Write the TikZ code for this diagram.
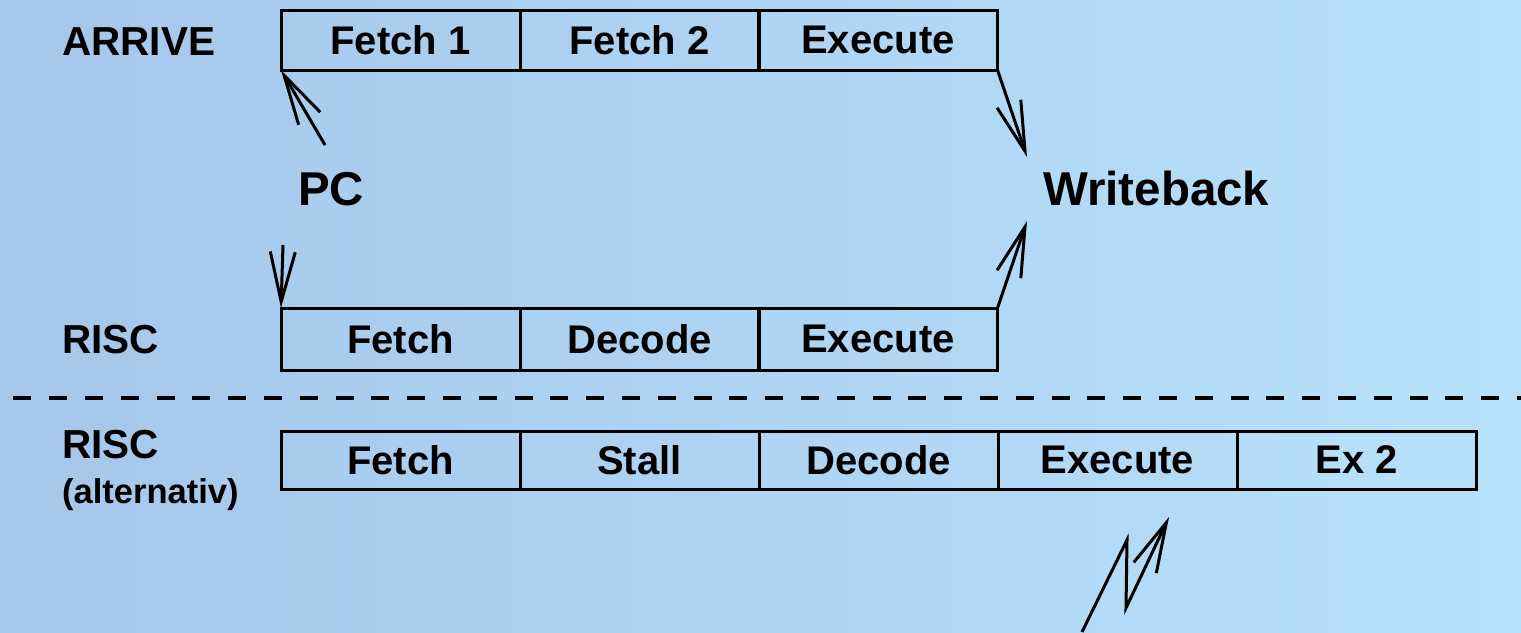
\documentclass[tikz,border=0pt]{standalone}
\usepackage{fontspec}
\setmainfont{Liberation Sans}
\usetikzlibrary{arrows.meta}
\begin{document}
\begin{tikzpicture}[x=1pt,y=-1pt,
  stage/.style={draw,line width=3pt,minimum width=239pt,inner sep=0pt,outer sep=0pt,
    font=\bfseries\fontsize{40}{42}\selectfont},
  rowlabel/.style={anchor=base west,inner sep=0pt,font=\bfseries\fontsize{40.5}{42}\selectfont},
  biglabel/.style={anchor=base west,inner sep=0pt,font=\bfseries\fontsize{47.5}{50}\selectfont},
  arr/.style={line width=3pt,-{Straight Barb[length=50pt,width=25pt,line width=3pt]}}]
\definecolor{bgleft}{RGB}{166,198,234}
\definecolor{bgright}{RGB}{184,226,250}
\shade[left color=bgleft,right color=bgright] (0,0) rectangle (1521,632);
\useasboundingbox (0,0) rectangle (1521,632);

% top row
\node[stage,minimum height=60pt] (a1) at (400.5,40) {Fetch 1};
\node[stage,minimum height=60pt] (a2) at (639.5,40) {Fetch 2};
\node[stage,minimum height=60pt] (a3) at (878,40) {Execute};
% middle row
\node[stage,minimum height=62pt] (r1) at (400.5,339) {Fetch};
\node[stage,minimum height=62pt] (r2) at (639.5,339) {Decode};
\node[stage,minimum height=62pt] (r3) at (878,339) {Execute};
% bottom row
\node[stage,minimum height=58pt] (b1) at (400.5,460) {Fetch};
\node[stage,minimum height=58pt] (b2) at (639.5,460) {Stall};
\node[stage,minimum height=58pt] (b3) at (878.5,460) {Decode};
\node[stage,minimum height=58pt] (b4) at (1117.5,460) {Execute};
\node[stage,minimum height=58pt] (b5) at (1356.5,460) {Ex 2};

% labels
\node[rowlabel] (lar) at (62,55) {ARRIVE};
\node[rowlabel] (lr1) at (62,353) {RISC};
\node[rowlabel] (lr2) at (62,458) {RISC};
\node[anchor=base west,inner sep=0pt,font=\bfseries\fontsize{34.5}{36}\selectfont] (lalt) at (62,503) {(alternativ)};
\node[biglabel] (pc) at (298,205) {PC};
\node[biglabel] (wb) at (1043,205) {Writeback};

% separator
\coordinate (sl) at (0,398);
\coordinate (sr) at (1521,398);
\draw[line width=3.2pt,dash pattern=on 18pt off 17.8pt,dash phase=22.4pt] (sl) -- (sr);

% arrows
\coordinate (p1) at (325,145);
\coordinate (p2) at (1027,157);
\coordinate (p3) at (283,245);
\coordinate (p4) at (1027,221);
\draw[arr] (p1) -- (a1.south west);
\draw[arr] (a3.south east) -- (p2);
\draw[arr] (p3) -- (r1.north west);
\draw[arr] (r3.north east) -- (p4);

% zigzag
\coordinate (z0) at (1082,632);
\coordinate (z1) at (1127,540);
\coordinate (z2) at (1126,608);
\coordinate (z3) at (1169,517);
\draw[arr,line join=miter] (z0) -- (z1) -- (z2) -- (z3);
\end{tikzpicture}
\end{document}
